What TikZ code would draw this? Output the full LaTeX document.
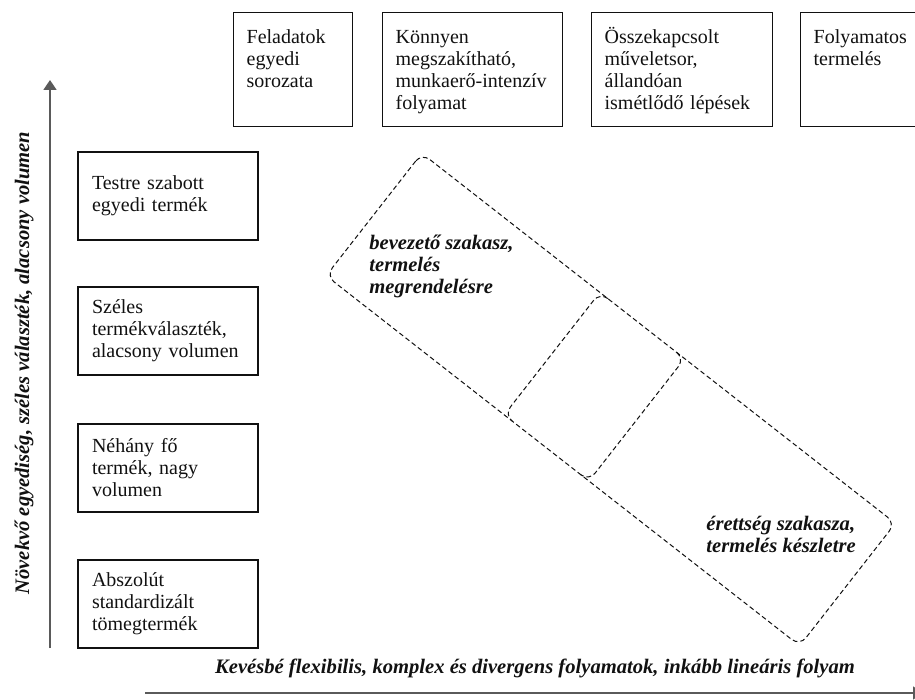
\documentclass[tikz,border=0pt]{standalone}
\usepackage{fontspec}
\setmainfont{Liberation Serif}
\usepackage{tikz}
\usetikzlibrary{arrows.meta}
\definecolor{mxink}{HTML}{111111}
\definecolor{mxaxis}{HTML}{5A5A5A}
\newcommand{\boxfont}{\fontsize{10pt}{11pt}\selectfont\hyphenpenalty=10000\exhyphenpenalty=10000}
\tikzset{
  prodbox/.style={draw=mxink,line width=0.65pt,minimum height=44pt,text width=76pt,
              inner xsep=7pt,align=left,font=\boxfont,text=mxink},
  procbox/.style={draw=mxink,line width=0.65pt,anchor=north west,inner xsep=6.5pt,inner ysep=4pt,
              text height=11.6pt,text depth=37.4pt,align=left,font=\boxfont,text=mxink},
}

\begin{document}
\begin{tikzpicture}[x=0.5pt,y=-0.5pt,
  phase/.style={draw=mxink,line width=0.5pt,dash pattern=on 2.4pt off 1.5pt,rounded corners=5pt},
  axisline/.style={draw=mxaxis,line width=0.9pt,-{Triangle[length=5pt,width=6.5pt]}},
  axlab/.style={font=\fontsize{10.3pt}{11pt}\selectfont\bfseries\itshape,text=mxink},
  phlab/.style={axlab,align=left,anchor=north west,inner sep=0pt}]

  \path[use as bounding box] (0,0) rectangle (915,700);
  \clip (0,0) rectangle (915,700);

  % ---- process types ----
  \node[procbox,text width=46.5pt] (t1) at (233,12) {Feladatok\\egyedi\\sorozata};
  \node[procbox,text width=77pt] (t2) at (382,12) {Könnyen\\megszakítható,\\munkaerő-intenzív\\folyamat};
  \node[procbox,text width=77.5pt] (t3) at (591,12) {Összekapcsolt\\műveletsor,\\állandóan\\ismétlődő~lépések};
  \node[procbox,text width=77pt] (t4) at (800,12) {Folyamatos\\termelés};

  % ---- product types ----
  \node[prodbox] (p1) at (168,196) {Testre~szabott\\egyedi~termék};
  \node[prodbox] (p2) at (168,331) {Széles\\termékválaszték,\\alacsony~volumen};
  \node[prodbox] (p3) at (168,468) {Néhány~fő\\termék,~nagy\\volumen};
  \node[prodbox] (p4) at (168,604) {Abszolút\\standardizált\\tömegtermék};

  % ---- axes ----
  \coordinate (ybot) at (50,648);
  \coordinate (ytop) at (50,80);
  \draw[axisline] (ybot) -- (ytop);
  \node[axlab,rotate=90] (ylab) at (24,363) {Növekvő egyediség, széles választék, alacsony volumen};
  \coordinate (xleft) at (145,693);
  \coordinate (xright) at (923,693);
  \draw[axisline] (xleft) -- (xright);
  \node[axlab] (xlab) at (535,668) {Kevésbé flexibilis, komplex és divergens folyamatok, inkább lineáris folyam};

  % ---- life cycle band ----
  \begin{scope}[shift={(610.75,399.5)},rotate=-38]
    \draw[phase] (-300.5,-77.7) rectangle (300.5,77.7);
    \draw[phase] (-64.5,-77.7) -- (-74.5,-77.7) -- (-74.5,77.7) -- (-64.5,77.7);
    \draw[phase] (23,-77.7) -- (33,-77.7) -- (33,77.7) -- (23,77.7);
  \end{scope}
  \node[phlab] (intro) at (369,235) {bevezető szakasz,\\termelés\\megrendelésre};
  \node[phlab] (mature) at (706,516) {érettség szakasza,\\termelés készletre};
\end{tikzpicture}
\end{document}
